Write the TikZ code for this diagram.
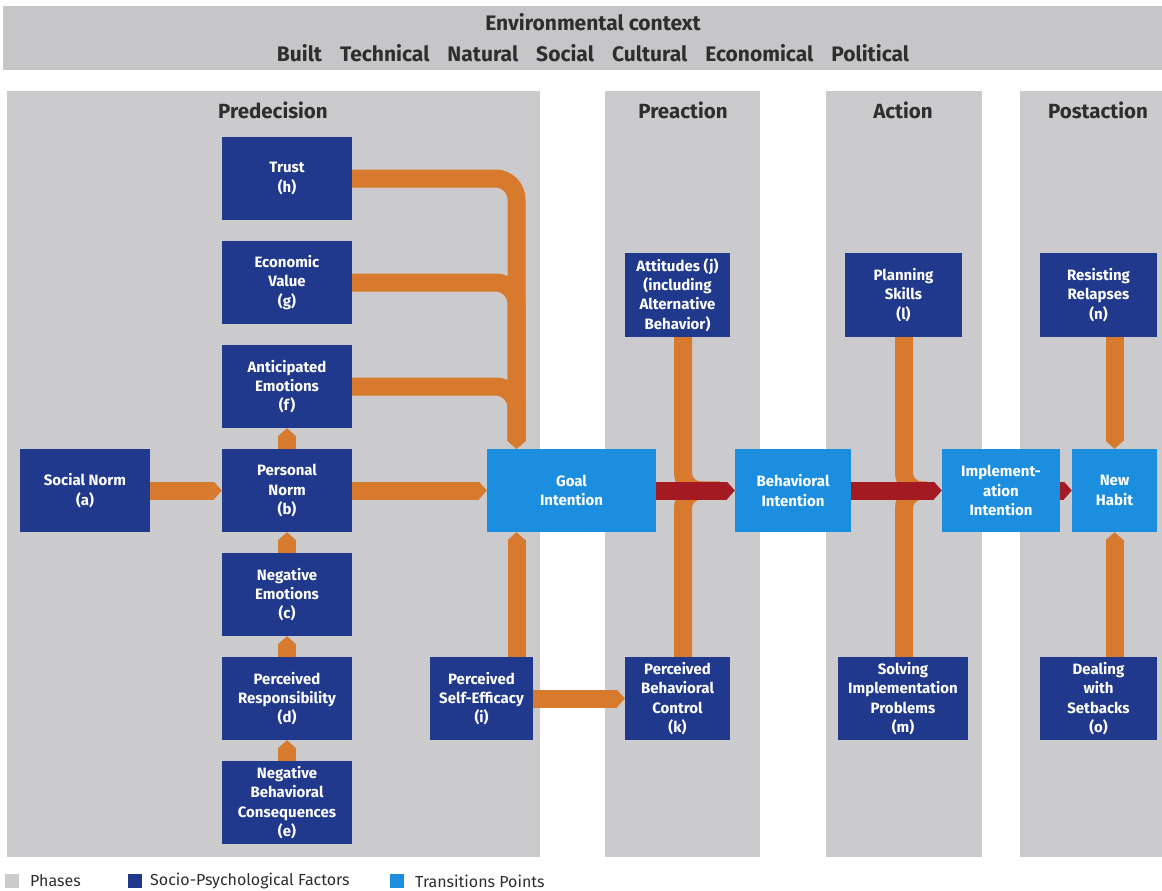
\documentclass[tikz,border=0pt]{standalone}
\usepackage{fontspec}
\setmainfont{Fira Sans}
\usetikzlibrary{arrows.meta}
\definecolor{dblue}{HTML}{21398D}
\definecolor{lblue}{HTML}{1C8EDF}
\definecolor{phase}{HTML}{CBCBCD}
\definecolor{envbar}{HTML}{C6C6C8}
\definecolor{oarr}{HTML}{D77A2D}
\definecolor{rarr}{HTML}{A41A22}
\definecolor{txtgray}{HTML}{2E2E2E}
\begin{document}
\begin{tikzpicture}[x=1pt,y=-1pt,
  fac/.style={fill=dblue,text=white,font=\fontsize{15}{19.3}\selectfont\bfseries,align=center,inner sep=0pt,minimum width=130pt,minimum height=83pt},
  trans/.style={fac,fill=lblue},
  phasetitle/.style={font=\fontsize{20.5}{24}\selectfont\bfseries,text=txtgray},
  envtext/.style={font=\fontsize{21}{24}\selectfont\bfseries,text=txtgray},
  oline/.style={draw=oarr,line width=18pt},
  oarrow/.style={oline,-{Triangle[length=8pt,width=18pt,line width=0pt]}},
  rarrow/.style={draw=rarr,line width=18pt,-{Triangle[length=8pt,width=18pt,line width=0pt]}},
  legbox/.style={inner sep=0pt,minimum size=14pt},
  legtext/.style={font=\fontsize{16}{18}\selectfont,text=txtgray,anchor=west,inner sep=0pt},
]
\useasboundingbox (0,0) rectangle (1162,891);
\fill[white] (0,0) rectangle (1162,891);
% environmental context bar
\fill[envbar] (3,6) rectangle (1162,70);
\node[envtext] (env) at (593,22) {Environmental context};
\node[envtext] (envlist) at (593,53) {Built\hspace{18pt}Technical\hspace{18pt}Natural\hspace{18pt}Social\hspace{18pt}Cultural\hspace{18pt}Economical\hspace{18pt}Political};
% phases
\fill[phase] (7,91) rectangle (540,857);
\fill[phase] (605,91) rectangle (760,857);
\fill[phase] (826,91) rectangle (982,857);
\fill[phase] (1020,91) rectangle (1162,857);
\node[phasetitle] (p1) at (273,110) {Predecision};
\node[phasetitle] (p2) at (683,110) {Preaction};
\node[phasetitle] (p3) at (903,110) {Action};
\node[phasetitle] (p4) at (1098,110) {Postaction};
% factors
\node[fac] (h) at (287,178.5) {Trust\\(h)};
\node[fac] (g) at (287,282.5) {Economic\\Value\\(g)};
\node[fac] (f) at (287,386.5) {Anticipated\\Emotions\\(f)};
\node[fac] (b) at (287,490.5) {Personal\\Norm\\(b)};
\node[fac] (c) at (287,594.5) {Negative\\Emotions\\(c)};
\node[fac] (d) at (287,698.5) {Perceived\\Responsibility\\(d)};
\node[fac] (e) at (287,802.5) {Negative\\Behavioral\\Consequences\\(e)};
\node[fac] (a) at (85,490.5) {Social Norm\\(a)};
\node[fac,minimum width=103pt] (i) at (481.5,698.5) {Perceived\\Self-Efficacy\\(i)};
\node[fac,minimum width=105pt,minimum height=84pt] (j) at (677.5,295) {Attitudes (j)\\(including\\Alternative\\Behavior)};
\node[fac,minimum width=105pt] (k) at (677.5,698.5) {Perceived\\Behavioral\\Control\\(k)};
\node[fac,minimum width=117pt,minimum height=84pt] (l) at (903.5,295) {Planning\\Skills\\(l)};
\node[fac,minimum width=130pt] (m) at (903,698.5) {Solving\\Implementation\\Problems\\(m)};
\node[fac,minimum width=117pt,minimum height=84pt] (n) at (1098.5,295) {Resisting\\Relapses\\(n)};
\node[fac,minimum width=117pt] (o) at (1098.5,698.5) {Dealing\\with\\Setbacks\\(o)};
% transition points
\node[trans,minimum width=169pt] (goal) at (571.5,490.5) {Goal\\Intention};
\node[trans,minimum width=116pt] (bi) at (793,490.5) {Behavioral\\Intention};
\node[trans,minimum width=118pt] (ii) at (1001,490.5) {Implement-\\ation\\Intention};
\node[trans,minimum width=85pt] (nh) at (1114.5,490.5) {New\\Habit};
% orange connectors
\draw[oarrow,rounded corners=21pt] (h.east) -| ([xshift=-55pt]goal.north);
\draw[oarrow,rounded corners=21pt] (g.east) -| ([xshift=-55pt]goal.north);
\draw[oarrow,rounded corners=21pt] (f.east) -| ([xshift=-55pt]goal.north);
\draw[oarrow] (a.east) -- (b.west);
\draw[oarrow] (b.east) -- (goal.west);
\draw[oarrow] (b.north) -- (f.south);
\draw[oarrow] (c.north) -- (b.south);
\draw[oarrow] (d.north) -- (c.south);
\draw[oarrow] (e.north) -- (d.south);
\draw[oarrow] ([xshift=35pt]i.north) -- ([xshift=-55pt]goal.south);
\draw[oarrow] (i.east) -- (k.west);
\draw[oline,rounded corners=18pt] ([xshift=5.5pt]j.south) |- ([xshift=-15pt]bi.west);
\draw[oline,rounded corners=18pt] ([xshift=5.5pt]k.north) |- ([xshift=-15pt]bi.west);
\draw[oline,rounded corners=18pt] ([xshift=0.5pt]l.south) |- ([xshift=-15pt]ii.west);
\draw[oline,rounded corners=18pt] ([xshift=1pt]m.north) |- ([xshift=-15pt]ii.west);
\draw[oarrow] ([xshift=16pt]n.south) -- (nh.north);
\draw[oarrow] ([xshift=16pt]o.north) -- (nh.south);
% red connectors
\draw[rarrow] (goal.east) -- (bi.west);
\draw[rarrow] (bi.east) -- (ii.west);
\draw[rarrow] (ii.east) -- (nh.west);
% legend
\node[legbox,fill=phase] (lg1) at (12,881) {};
\node[legtext] (lt1) at (30,881) {Phases};
\node[legbox,fill=dblue] (lg2) at (135,881) {};
\node[legtext] (lt2) at (150,881) {Socio-Psychological Factors};
\node[legbox,fill=lblue] (lg3) at (397,881) {};
\node[legtext] (lt3) at (415,881) {Transitions Points};
\end{tikzpicture}
\end{document}
